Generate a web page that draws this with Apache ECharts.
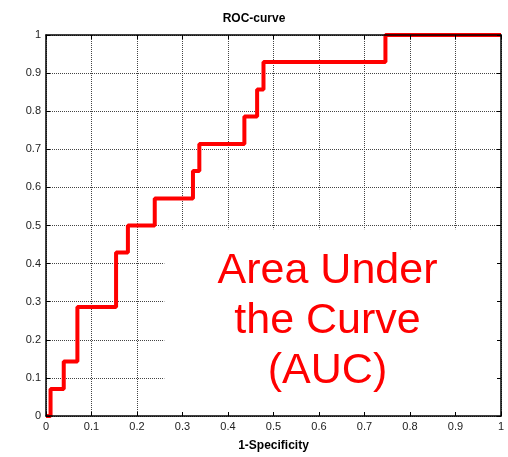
<!DOCTYPE html>
<html>
<head>
<meta charset="utf-8">
<script src="https://cdn.jsdelivr.net/npm/echarts@6/dist/echarts.min.js"></script>
<style>
  html, body { margin: 0; padding: 0; background: #fff; }
  #chartRoc { width: 508px; height: 457px; }
</style>
</head>
<body>
<div id="chartRoc"></div>
<script>
// ROC points (1-specificity, sensitivity)
var fprValues = [0, 0.01, 0.039, 0.069, 0.154, 0.18, 0.239, 0.323, 0.337, 0.436, 0.464, 0.478, 0.746, 1]
var tprValues = [0, 0.071, 0.143, 0.286, 0.429, 0.5, 0.571, 0.643, 0.714, 0.786, 0.857, 0.929, 1, 1]
// white label box in data units: [x0, y0, x1, y1]
var aucBox = [0.26, 0, 0.995, 0.49]
var aucText = 'Area Under\nthe Curve\n(AUC)'

var rocData = fprValues.map(function (x, i) { return [x, tprValues[i]] })

var chartRoc = echarts.init(document.getElementById('chartRoc'))
var edgeAxis = {
  type: 'value',
  min: 0,
  max: 1,
  interval: 0.1,
  z: 5,
  axisLine: { show: true, onZero: false, lineStyle: { color: '#000', width: 1.5 } },
  axisTick: { show: true, inside: true, length: 4, lineStyle: { color: '#000' } },
  splitLine: { show: false }
}
var labelStyle = { color: '#222', fontSize: 11, fontFamily: 'Liberation Sans, Arial, sans-serif' }
var gridAxis = {
  type: 'value',
  min: 0,
  max: 1,
  interval: 0.1,
  z: 0,
  axisLine: { show: false },
  axisTick: { show: false },
  axisLabel: { show: false },
  splitLine: { show: true, lineStyle: { color: '#444', type: [1, 1], width: 1 } }
}
var option = {
  animation: false,
  title: {
    left: 'center',
    top: 8,
    text: 'ROC-curve',
    textStyle: { color: '#000', fontSize: 12, fontWeight: 'bold', fontFamily: 'Liberation Sans, Arial, sans-serif' }
  },
  grid: { left: 46, right: 7, top: 35, bottom: 41 },
  xAxis: [
    Object.assign({}, edgeAxis, {
      position: 'bottom',
      name: '1-Specificity',
      nameLocation: 'middle',
      nameGap: 24,
      nameTextStyle: { color: '#000', fontSize: 12, fontWeight: 'bold', fontFamily: 'Liberation Sans, Arial, sans-serif' },
      axisLabel: Object.assign({ margin: 5 }, labelStyle)
    }),
    Object.assign({}, edgeAxis, { position: 'top', axisLabel: { show: false } }),
    Object.assign({}, gridAxis)
  ],
  yAxis: [
    Object.assign({}, edgeAxis, {
      position: 'left',
      axisLabel: Object.assign({ margin: 5 }, labelStyle)
    }),
    Object.assign({}, edgeAxis, { position: 'right', axisLabel: { show: false } }),
    Object.assign({}, gridAxis)
  ],
  series: [
    {
      type: 'line',
      xAxisIndex: 2,
      yAxisIndex: 2,
      step: 'end',
      data: rocData,
      showSymbol: false,
      symbol: 'none',
      lineStyle: { color: '#ff0000', width: 4 },
      z: 3,
      markArea: {
        silent: true,
        itemStyle: { color: '#fff' },
        label: {
          show: true,
          position: 'inside',
          offset: [-4, -2],
          color: '#ff0000',
          fontSize: 43,
          lineHeight: 50,
          align: 'center',
          fontFamily: 'Liberation Sans, Arial, sans-serif'
        },
        data: [[
          { name: aucText, xAxis: aucBox[0], yAxis: aucBox[1] },
          { xAxis: aucBox[2], yAxis: aucBox[3] }
        ]]
      }
    }
  ]
}
chartRoc.setOption(option)
</script>
</body>
</html>
